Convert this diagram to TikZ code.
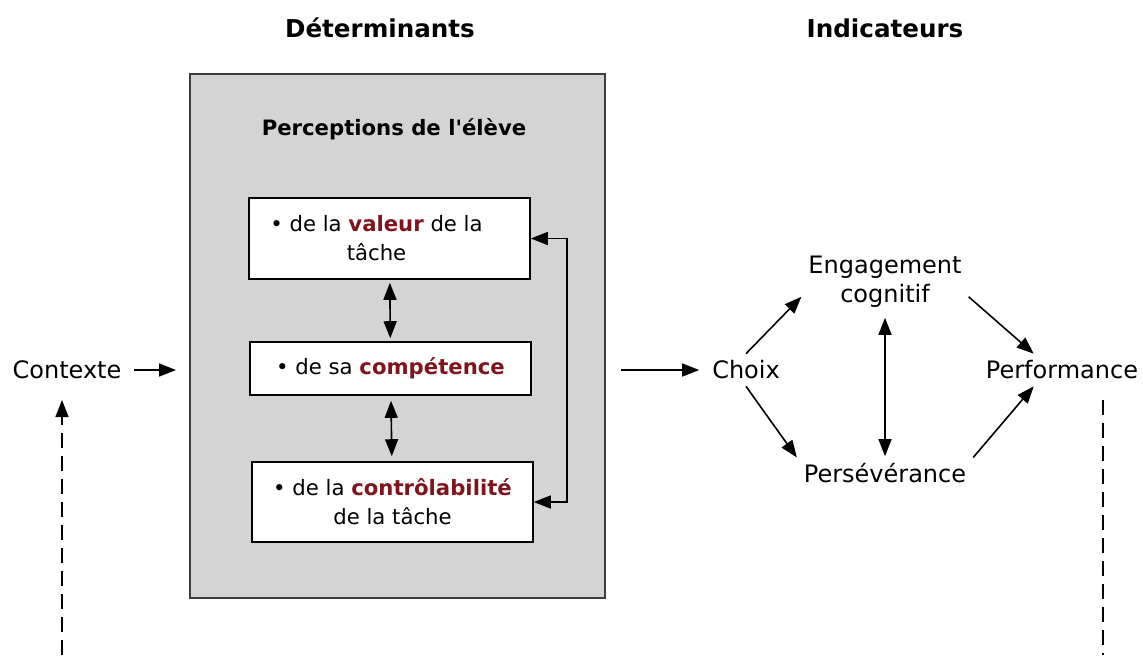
\documentclass[tikz,border=0pt]{standalone}
\usepackage{fontspec}
\setmainfont{DejaVu Sans}[Ligatures=TeXOff]
\usepackage{tikz}
\usetikzlibrary{arrows.meta}
\definecolor{rougefonce}{RGB}{128,20,30}
\definecolor{grisfond}{RGB}{212,212,212}
\definecolor{grisbord}{RGB}{60,60,60}
\newcommand{\motcle}[1]{\textbf{\color{rougefonce}#1}}

\begin{document}
\begin{tikzpicture}[x=0.5pt,y=-0.5pt,
  every node/.style={font=\fontsize{12}{14.5}\selectfont,align=center},
  entete/.style={font=\fontsize{12.3}{14}\selectfont\bfseries},
  soustitre/.style={font=\fontsize{10.6}{13}\selectfont\bfseries},
  boite/.style={draw,fill=white,line width=0.8pt,minimum width=140.5pt},
  texteboite/.style={font=\fontsize{10.6}{14.5}\selectfont},
  fleche/.style={-{Triangle[length=8.5pt,width=6.5pt]},line width=0.8pt},
  flechedouble/.style={{Triangle[length=8.5pt,width=6.5pt]}-{Triangle[length=8.5pt,width=6.5pt]},line width=0.8pt},
  tirets/.style={dash pattern=on 7.5pt off 4pt}]
\useasboundingbox (0,0) rectangle (1143,655);

% titres des colonnes
\node (det) at (380,28)[entete] {Déterminants};
\node (ind) at (885,28)[entete] {Indicateurs};

% bloc des perceptions
\node (percep) at (397.5,336)[draw=grisbord,fill=grisfond,line width=1pt,minimum width=207.5pt,minimum height=262pt] {};
\node (titre) at (394,129)[soustitre] {Perceptions de l'élève};
\node (valeur) at (389.5,238.5)[boite,minimum height=40.5pt] {};
\node (valeurtxt) at ([xshift=-6.5pt]valeur.center)[texteboite] {• de la \motcle{valeur} de la\\tâche};
\node (compet) at (390.5,368.5)[boite,minimum height=26.5pt,texteboite] {• de sa \motcle{compétence}};
\node (contro) at (392.5,502)[boite,minimum height=40pt,texteboite] {• de la \motcle{contrôlabilité}\\de la tâche};
\draw [flechedouble,shorten <=1.5pt,shorten >=1.5pt] (valeur) -- (compet);
\draw [flechedouble,shorten <=2.5pt,shorten >=2.5pt] (compet) -- (contro);
\draw [flechedouble] (valeur.east) -- ++(36,0) |- (contro.east);

% contexte
\node (ctx) at (67,370) {Contexte};
\coordinate (ctxbas) at (62,655);
\coordinate (ctxhaut) at (62,400);
\draw [fleche,shorten <=3pt,shorten >=6.5pt] (ctx) -- (ctx -| percep.west);
\draw [fleche,tirets] (ctxbas) -- (ctxhaut);

% indicateurs
\node (choix) at (746,370) {Choix};
\node (eng) at (885,282) {Engagement\\cognitif};
\node (pers) at (885,473) {Persévérance};
\node (perf) at (1062,370) {Performance};
\coordinate (perfhaut) at (1103,400);
\coordinate (perfbas) at (1103,655);
\draw [fleche,shorten <=7.5pt,shorten >=3pt] (percep.east |- choix) -- (choix);
\draw [fleche] (choix.north) -- (eng.190);
\draw [fleche] (choix.south) -- (pers.170);
\draw [fleche] (eng.350) -- (perf.150);
\draw [fleche] (pers.10) -- (perf.210);
\draw [flechedouble,shorten <=1.5pt] (eng) -- (pers);
\draw [tirets,line width=0.8pt] (perfhaut) -- (perfbas);
\end{tikzpicture}
\end{document}
